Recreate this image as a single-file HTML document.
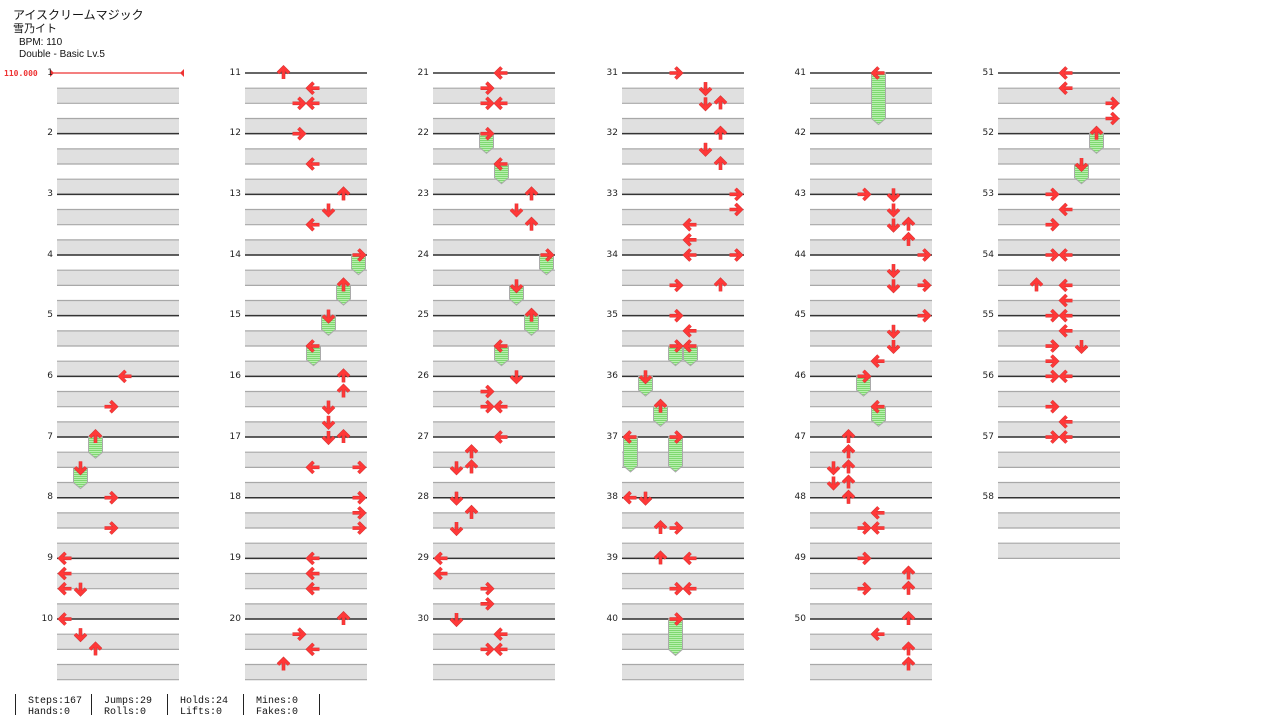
<!DOCTYPE html>
<html><head><meta charset="utf-8">
<style>
html,body{margin:0;padding:0;background:#fff;width:1280px;height:728px;overflow:hidden}
svg{position:absolute;left:0;top:0}
.t{font-family:"Liberation Sans","Noto Sans CJK JP",sans-serif;fill:#111}
.m{font-family:"DejaVu Sans","Liberation Sans",sans-serif;font-size:9px;fill:#222;text-anchor:end}
.f{font-family:"Liberation Mono","DejaVu Sans Mono",monospace;font-size:10px;fill:#111}
</style></head><body>
<svg id="s" width="1280" height="728" xmlns="http://www.w3.org/2000/svg">
<defs>
<pattern id="hp" width="4" height="2" patternUnits="userSpaceOnUse"><rect width="4" height="2" fill="#b8f0b0"/><rect width="4" height="1" fill="#7fd870"/></pattern>
</defs>
<g id="bands"></g>
<g id="holds"></g>
<g id="arrows"></g>
<text class="t" x="13" y="19" font-size="12">アイスクリームマジック</text>
<text class="t" x="13" y="32" font-size="11">雪乃イト</text>
<text class="t" x="19" y="45" font-size="10">BPM: 110</text>
<text class="t" x="19" y="57" font-size="10">Double - Basic  Lv.5</text>
<text x="4" y="76" font-family="DejaVu Sans Mono,monospace" font-size="8" font-weight="bold" fill="#e33">110.000</text>
<g class="m">
<text x="53" y="75">1</text><text x="53" y="135">2</text><text x="53" y="196">3</text><text x="53" y="257">4</text><text x="53" y="317">5</text><text x="53" y="378">6</text><text x="53" y="439">7</text><text x="53" y="499">8</text><text x="53" y="560">9</text><text x="53" y="621">10</text>
<text x="241" y="75">11</text><text x="241" y="135">12</text><text x="241" y="196">13</text><text x="241" y="257">14</text><text x="241" y="317">15</text><text x="241" y="378">16</text><text x="241" y="439">17</text><text x="241" y="499">18</text><text x="241" y="560">19</text><text x="241" y="621">20</text>
<text x="429" y="75">21</text><text x="429" y="135">22</text><text x="429" y="196">23</text><text x="429" y="257">24</text><text x="429" y="317">25</text><text x="429" y="378">26</text><text x="429" y="439">27</text><text x="429" y="499">28</text><text x="429" y="560">29</text><text x="429" y="621">30</text>
<text x="618" y="75">31</text><text x="618" y="135">32</text><text x="618" y="196">33</text><text x="618" y="257">34</text><text x="618" y="317">35</text><text x="618" y="378">36</text><text x="618" y="439">37</text><text x="618" y="499">38</text><text x="618" y="560">39</text><text x="618" y="621">40</text>
<text x="806" y="75">41</text><text x="806" y="135">42</text><text x="806" y="196">43</text><text x="806" y="257">44</text><text x="806" y="317">45</text><text x="806" y="378">46</text><text x="806" y="439">47</text><text x="806" y="499">48</text><text x="806" y="560">49</text><text x="806" y="621">50</text>
<text x="994" y="75">51</text><text x="994" y="135">52</text><text x="994" y="196">53</text><text x="994" y="257">54</text><text x="994" y="317">55</text><text x="994" y="378">56</text><text x="994" y="439">57</text><text x="994" y="499">58</text>
</g>
<g stroke="#222" stroke-width="1">
<line x1="15.5" y1="694" x2="15.5" y2="715"/><line x1="91.5" y1="694" x2="91.5" y2="715"/><line x1="167.5" y1="694" x2="167.5" y2="715"/><line x1="243.5" y1="694" x2="243.5" y2="715"/><line x1="319.5" y1="694" x2="319.5" y2="715"/>
</g>
<text class="f" x="28" y="703">Steps:167</text><text class="f" x="28" y="714">Hands:0</text>
<text class="f" x="104" y="703">Jumps:29</text><text class="f" x="104" y="714">Rolls:0</text>
<text class="f" x="180" y="703">Holds:24</text><text class="f" x="180" y="714">Lifts:0</text>
<text class="f" x="256" y="703">Mines:0</text><text class="f" x="256" y="714">Fakes:0</text>
</svg>
<script>
var NS="http://www.w3.org/2000/svg";
function el(p,t,a){var e=document.createElementNS(NS,t);for(var k in a)e.setAttribute(k,a[k]);document.getElementById(p).appendChild(e);return e;}
var cols=[57,245,433,622,810,998], W=122, M=60.67, B=M/4, Y0=73;
var nm=[10,10,10,10,10,8];
cols.forEach(function(cx,c){
  for(var k=0;k<nm[c];k++){
    var y0=Y0+M*k;
    [1,3].forEach(function(b){
      var a=y0+B*b;
      el("bands","rect",{x:cx,y:a,width:W,height:B,fill:"#e0e0e0"});
      el("bands","line",{x1:cx,x2:cx+W,y1:a,y2:a,stroke:"#a8a8a8","stroke-width":1.2});
      el("bands","line",{x1:cx,x2:cx+W,y1:a+B,y2:a+B,stroke:"#a8a8a8","stroke-width":1.2});
    });
    if(!(c==0&&k==0)) el("bands","line",{x1:cx,x2:cx+W,y1:y0,y2:y0,stroke:"#333","stroke-width":1.5});
  }
});
el("bands","line",{x1:50,x2:184,y1:73,y2:73,stroke:"#e33","stroke-width":1.2});
el("bands","polygon",{points:"50,69 50,77 54,73",fill:"#e33"});
el("bands","polygon",{points:"184,69 184,77 180,73",fill:"#e33"});
var data=[
[[20,4],[22,3],[24,2,25.4],[26,1,27.4],[28,3],[30,3],[32,0],[33,0],[34,0],[34,1],[36,0],[37,1],[38,2]],
[[0,2],[1,4],[2,3],[2,4],[4,3],[6,4],[8,6],[9,5],[10,4],[12,7,13.3],[14,6,15.3],[16,5,17.3],[18,4,19.3],[20,6],[21,6],[22,5],[23,5],[24,5],[24,6],[26,4],[26,7],[28,7],[29,7],[30,7],[32,4],[33,4],[34,4],[36,6],[37,3],[38,4],[39,2]],
[[0,4],[1,3],[2,3],[2,4],[4,3,5.3],[6,4,7.3],[8,6],[9,5],[10,6],[12,7,13.3],[14,5,15.3],[16,6,17.3],[18,4,19.3],[20,5],[21,3],[22,3],[22,4],[24,4],[25,2],[26,1],[26,2],[28,1],[29,2],[30,1],[32,0],[33,0],[34,3],[35,3],[36,1],[37,4],[38,3],[38,4]],
[[0,3],[1,5],[2,5],[2,6],[4,6],[5,5],[6,6],[8,7],[9,7],[10,4],[11,4],[12,4],[12,7],[14,3],[14,6],[16,3],[17,4],[18,3,19.3],[18,4,19.3],[20,1,21.3],[22,2,23.3],[24,0,26.3],[24,3,26.3],[28,0],[28,1],[30,2],[30,3],[32,2],[32,4],[34,3],[34,4],[36,3,38.4]],
[[0,4,3.4],[8,3],[8,5],[9,5],[10,5],[10,6],[11,6],[12,7],[13,5],[14,5],[14,7],[16,7],[17,5],[18,5],[19,4],[20,3,21.3],[22,4,23.3],[24,2],[25,2],[26,1],[26,2],[27,1],[27,2],[28,2],[29,4],[30,3],[30,4],[32,3],[33,6],[34,3],[34,6],[36,6],[37,4],[38,6],[39,6]],
[[0,4],[1,4],[2,7],[3,7],[4,6,5.3],[6,5,7.3],[8,3],[9,4],[10,3],[12,3],[12,4],[14,2],[14,4],[15,4],[16,3],[16,4],[17,4],[18,3],[18,5],[19,3],[20,3],[20,4],[22,3],[23,4],[24,3],[24,4]]
];
var rot=[0,270,90,180];
data.forEach(function(list,c){
  var cx=cols[c];
  list.forEach(function(n){
    var x=cx+8.5+15*n[1], y=Y0+B*n[0];
    if(n.length>2){
      var ye=Y0+B*n[2];
      el("holds","path",{d:"M"+(x-7)+","+y+" L"+(x+7)+","+y+" L"+(x+7)+","+(ye-6)+" L"+x+","+ye+" L"+(x-7)+","+(ye-6)+"Z",fill:"url(#hp)",stroke:"#aaa","stroke-width":1});
    }
    var g=el("arrows","g",{transform:"translate("+x+","+y+") rotate("+rot[n[1]%4]+")"});
    var s=function(d,w,col){var p=document.createElementNS(NS,"path");p.setAttribute("d",d);p.setAttribute("fill","none");p.setAttribute("stroke",col);p.setAttribute("stroke-width",w);p.setAttribute("stroke-linejoin","miter");g.appendChild(p);};
    s("M-5.5,0 L6,0 M0,-5.5 L-5.5,0 L0,5.5",3.6,"#c33");
    s("M-5.5,0 L6,0 M0,-5.5 L-5.5,0 L0,5.5",2.6,"#ff3838");
  });
});
</script>
</body></html>
